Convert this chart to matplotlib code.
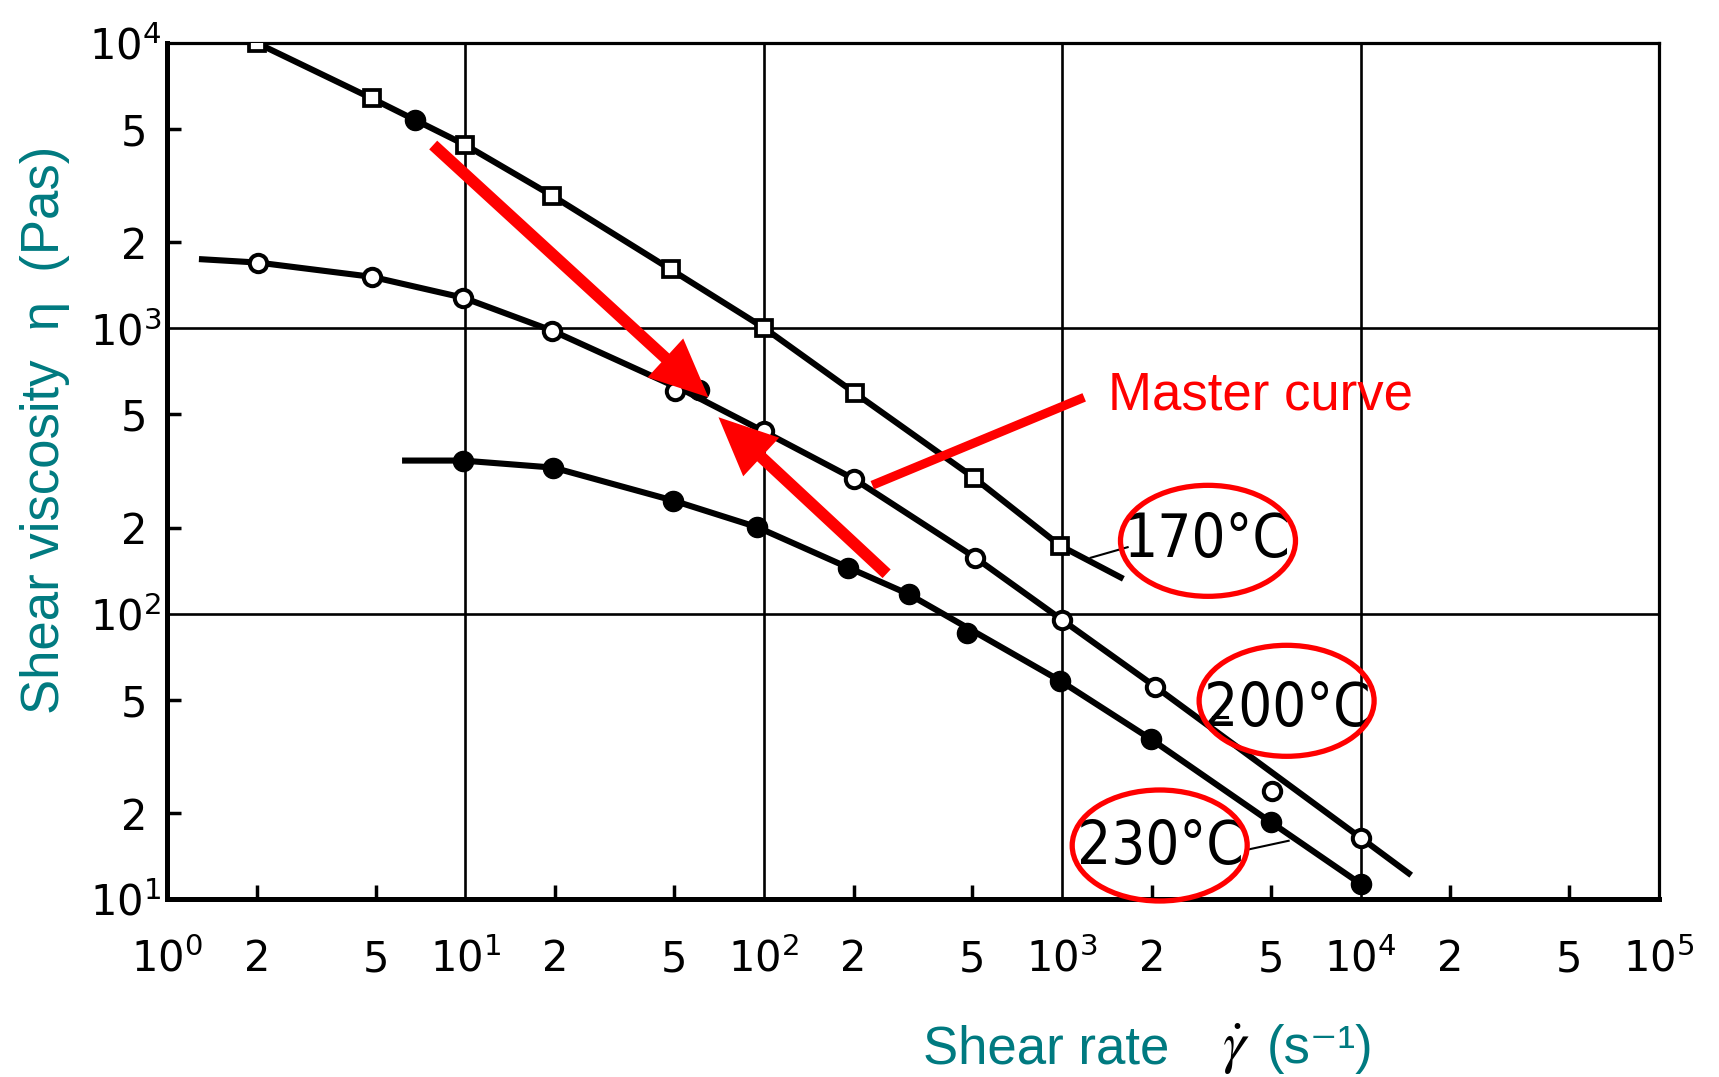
import matplotlib
matplotlib.use('Agg')
import matplotlib.pyplot as plt
from matplotlib import font_manager
from matplotlib.font_manager import FontProperties
from matplotlib.patches import Ellipse
from matplotlib.transforms import ScaledTranslation

# values: shear rate (1/s) vs shear viscosity (Pa s)
rate_170 = [2.0, 4.85, 10, 19.5, 48.7, 100, 202, 505, 985]
visc_170 = [10000, 6400, 4390, 2920, 1610, 1005, 593, 300, 173]
line_rate_170 = [2.0, 4.85, 10, 19.5, 48.7, 100, 202, 505, 985, 1570]
line_visc_170 = [10000, 6400, 4390, 2920, 1610, 1005, 593, 300, 173, 134]

rate_200 = [2.02, 4.87, 9.85, 19.5, 50.4, 100, 200, 512, 1000, 2050, 5040, 10000]
visc_200 = [1700, 1515, 1280, 982, 605, 435, 297, 157, 95, 55.5, 24, 16.4]
line_rate_200 = [1.31, 2.02, 4.87, 9.85, 19.5, 55, 100, 200, 512, 1000, 2050, 10000, 14500]
line_visc_200 = [1746, 1700, 1515, 1280, 982, 600, 435, 297, 157, 95, 55.5, 16.4, 12.3]

rate_230 = [9.8, 19.7, 49.8, 95, 192, 306, 479, 984, 1977, 5000, 10000]
visc_230 = [344, 325, 249, 201, 145, 117, 85.3, 58.2, 36.4, 18.6, 11.3]
line_rate_230 = [6.28, 9.8, 19.7, 49.8, 95, 192, 306, 984, 1977, 5000, 10000]
line_visc_230 = [344, 344, 325, 249, 201, 145, 117, 58.2, 36.4, 18.6, 11.3]

# filled points shifted onto the other curves
shifted_rate = [6.8, 60.7]
shifted_visc = [5370, 609]

x_major = [1, 10, 100, 1e3, 1e4, 1e5]
x_major_labels = ['$10^{0}$', '$10^{1}$', '$10^{2}$', '$10^{3}$', '$10^{4}$', '$10^{5}$']
x_minor = [2, 5, 20, 50, 200, 500, 2e3, 5e3, 2e4, 5e4]
x_minor_labels = ['2', '5'] * 5
y_major = [10, 100, 1e3, 1e4]
y_major_labels = ['$10^{1}$', '$10^{2}$', '$10^{3}$', '$10^{4}$']
y_minor = [20, 50, 200, 500, 2e3, 5e3]
y_minor_labels = ['2', '5'] * 3

temp_labels = ['170°C', '200°C', '230°C']
temp_pos = [(3050, 180), (5700, 46.0), (2138, 15.2)]
ring_pos = [(3080, 180), (5650, 49.5), (2122, 15.4)]

teal = '#007A80'

# a narrow face for the temperature labels if one is installed
label_prop = FontProperties(family='Liberation Sans', size=33)
for f in font_manager.fontManager.ttflist:
    squeezed = 'Narrow' in f.name or 'Condensed' in f.name or str(f.stretch) in ('condensed', 'semi-condensed')
    if squeezed and f.style == 'normal' and f.weight in (400, 'normal', 'regular'):
        label_prop = FontProperties(fname=f.fname, size=43)
        break

fig = plt.figure(figsize=(17.19, 10.77), dpi=100)
ax = fig.add_axes([167 / 1719, 1 - 899 / 1077, 1492 / 1719, 856 / 1077])
ax.set_xscale('log')
ax.set_yscale('log')
ax.set_xlim(1, 1e5)
ax.set_ylim(10, 1e4)

ax.grid(True, which='major', color='black', lw=1.9)
ax.set_axisbelow(True)
for side in ['left', 'bottom']:
    ax.spines[side].set_linewidth(3.6)
for side in ['top', 'right']:
    ax.spines[side].set_linewidth(2.3)

ax.set_xticks(x_major, x_major_labels, fontsize=30)
ax.set_xticks(x_minor, x_minor_labels, minor=True, fontsize=30)
ax.set_yticks(y_major, y_major_labels, fontsize=30)
ax.set_yticks(y_minor, y_minor_labels, minor=True, fontsize=30)
ax.tick_params(which='major', length=0)
ax.tick_params(which='minor', direction='in', length=10, width=2.5)
ax.tick_params(axis='x', which='both', pad=52)
ax.tick_params(axis='y', which='major', pad=4)
ax.tick_params(axis='y', which='minor', pad=14)
plt.setp(ax.get_xticklabels(which='both'), va='baseline')

# curves and measured points
ax.plot(line_rate_170, line_visc_170, color='black', lw=4.4, zorder=3)
ax.plot(line_rate_200, line_visc_200, color='black', lw=4.4, zorder=3)
ax.plot(line_rate_230, line_visc_230, color='black', lw=4.4, zorder=3)
ax.plot(rate_170, visc_170, 's', ms=12, mfc='white', mec='black', mew=2.7, zorder=4)
ax.plot(rate_200, visc_200, 'o', ms=12.5, mfc='white', mec='black', mew=2.9, zorder=4)
ax.plot(rate_230, visc_230, 'o', ms=14.5, color='black', zorder=4)
ax.plot(shifted_rate, shifted_visc, 'o', ms=14.5, color='black', zorder=4)

# temperature labels with red rings
for lab, (tx, ty), (rx, ry) in zip(temp_labels, temp_pos, ring_pos):
    ax.text(tx, ty, lab, fontproperties=label_prop, ha='center', va='center', zorder=5)
    trans = fig.dpi_scale_trans + ScaledTranslation(rx, ry, ax.transData)
    ax.add_patch(Ellipse((0, 0), 1.75, 1.11, transform=trans, fill=False,
                         ec='red', lw=3.8, clip_on=False, zorder=6))
ax.plot([1245, 1657], [157, 171], color='black', lw=1.5, zorder=3)
ax.plot([3190, 3560], [43.6, 43.6], color='black', lw=2.2, zorder=3)
ax.plot([4190, 5740], [14.9, 16.0], color='black', lw=1.5, zorder=3)

# master curve arrows and pointer
arrow = dict(facecolor='red', edgecolor='none', width=8.5, headwidth=38, headlength=42, shrink=0)
ax.annotate('', xy=(65.2, 573), xytext=(7.8, 4390), arrowprops=arrow, zorder=7)
ax.annotate('', xy=(70.5, 488), xytext=(258, 138), arrowprops=arrow, zorder=7)
ax.plot([231, 1185], [282, 573], color='red', lw=6.5, solid_capstyle='butt', zorder=7)
ax.text(1420, 582, 'Master curve', color='red', fontsize=38, family='Liberation Sans',
        va='center', zorder=7)

# axis titles
fig.text(45 / 1719, 1 - 430 / 1077, 'Shear viscosity  η  (Pas)', rotation=90, color=teal,
         fontsize=38, family='Liberation Sans', ha='center', va='center')
base = 1 - 1063 / 1077
fig.text(923 / 1719, base, 'Shear rate', color=teal, fontsize=38, family='Liberation Sans',
         va='baseline')
fig.text(1236 / 1719, base, r'$\dot{\gamma}$', math_fontfamily='stix', fontsize=42,
         color='black', ha='center', va='baseline')
fig.text(1267 / 1719, base, '(s⁻¹)', color=teal, fontsize=38,
         family=['Liberation Sans', 'DejaVu Sans'], va='baseline')

fig.savefig('out.png', dpi=100)
